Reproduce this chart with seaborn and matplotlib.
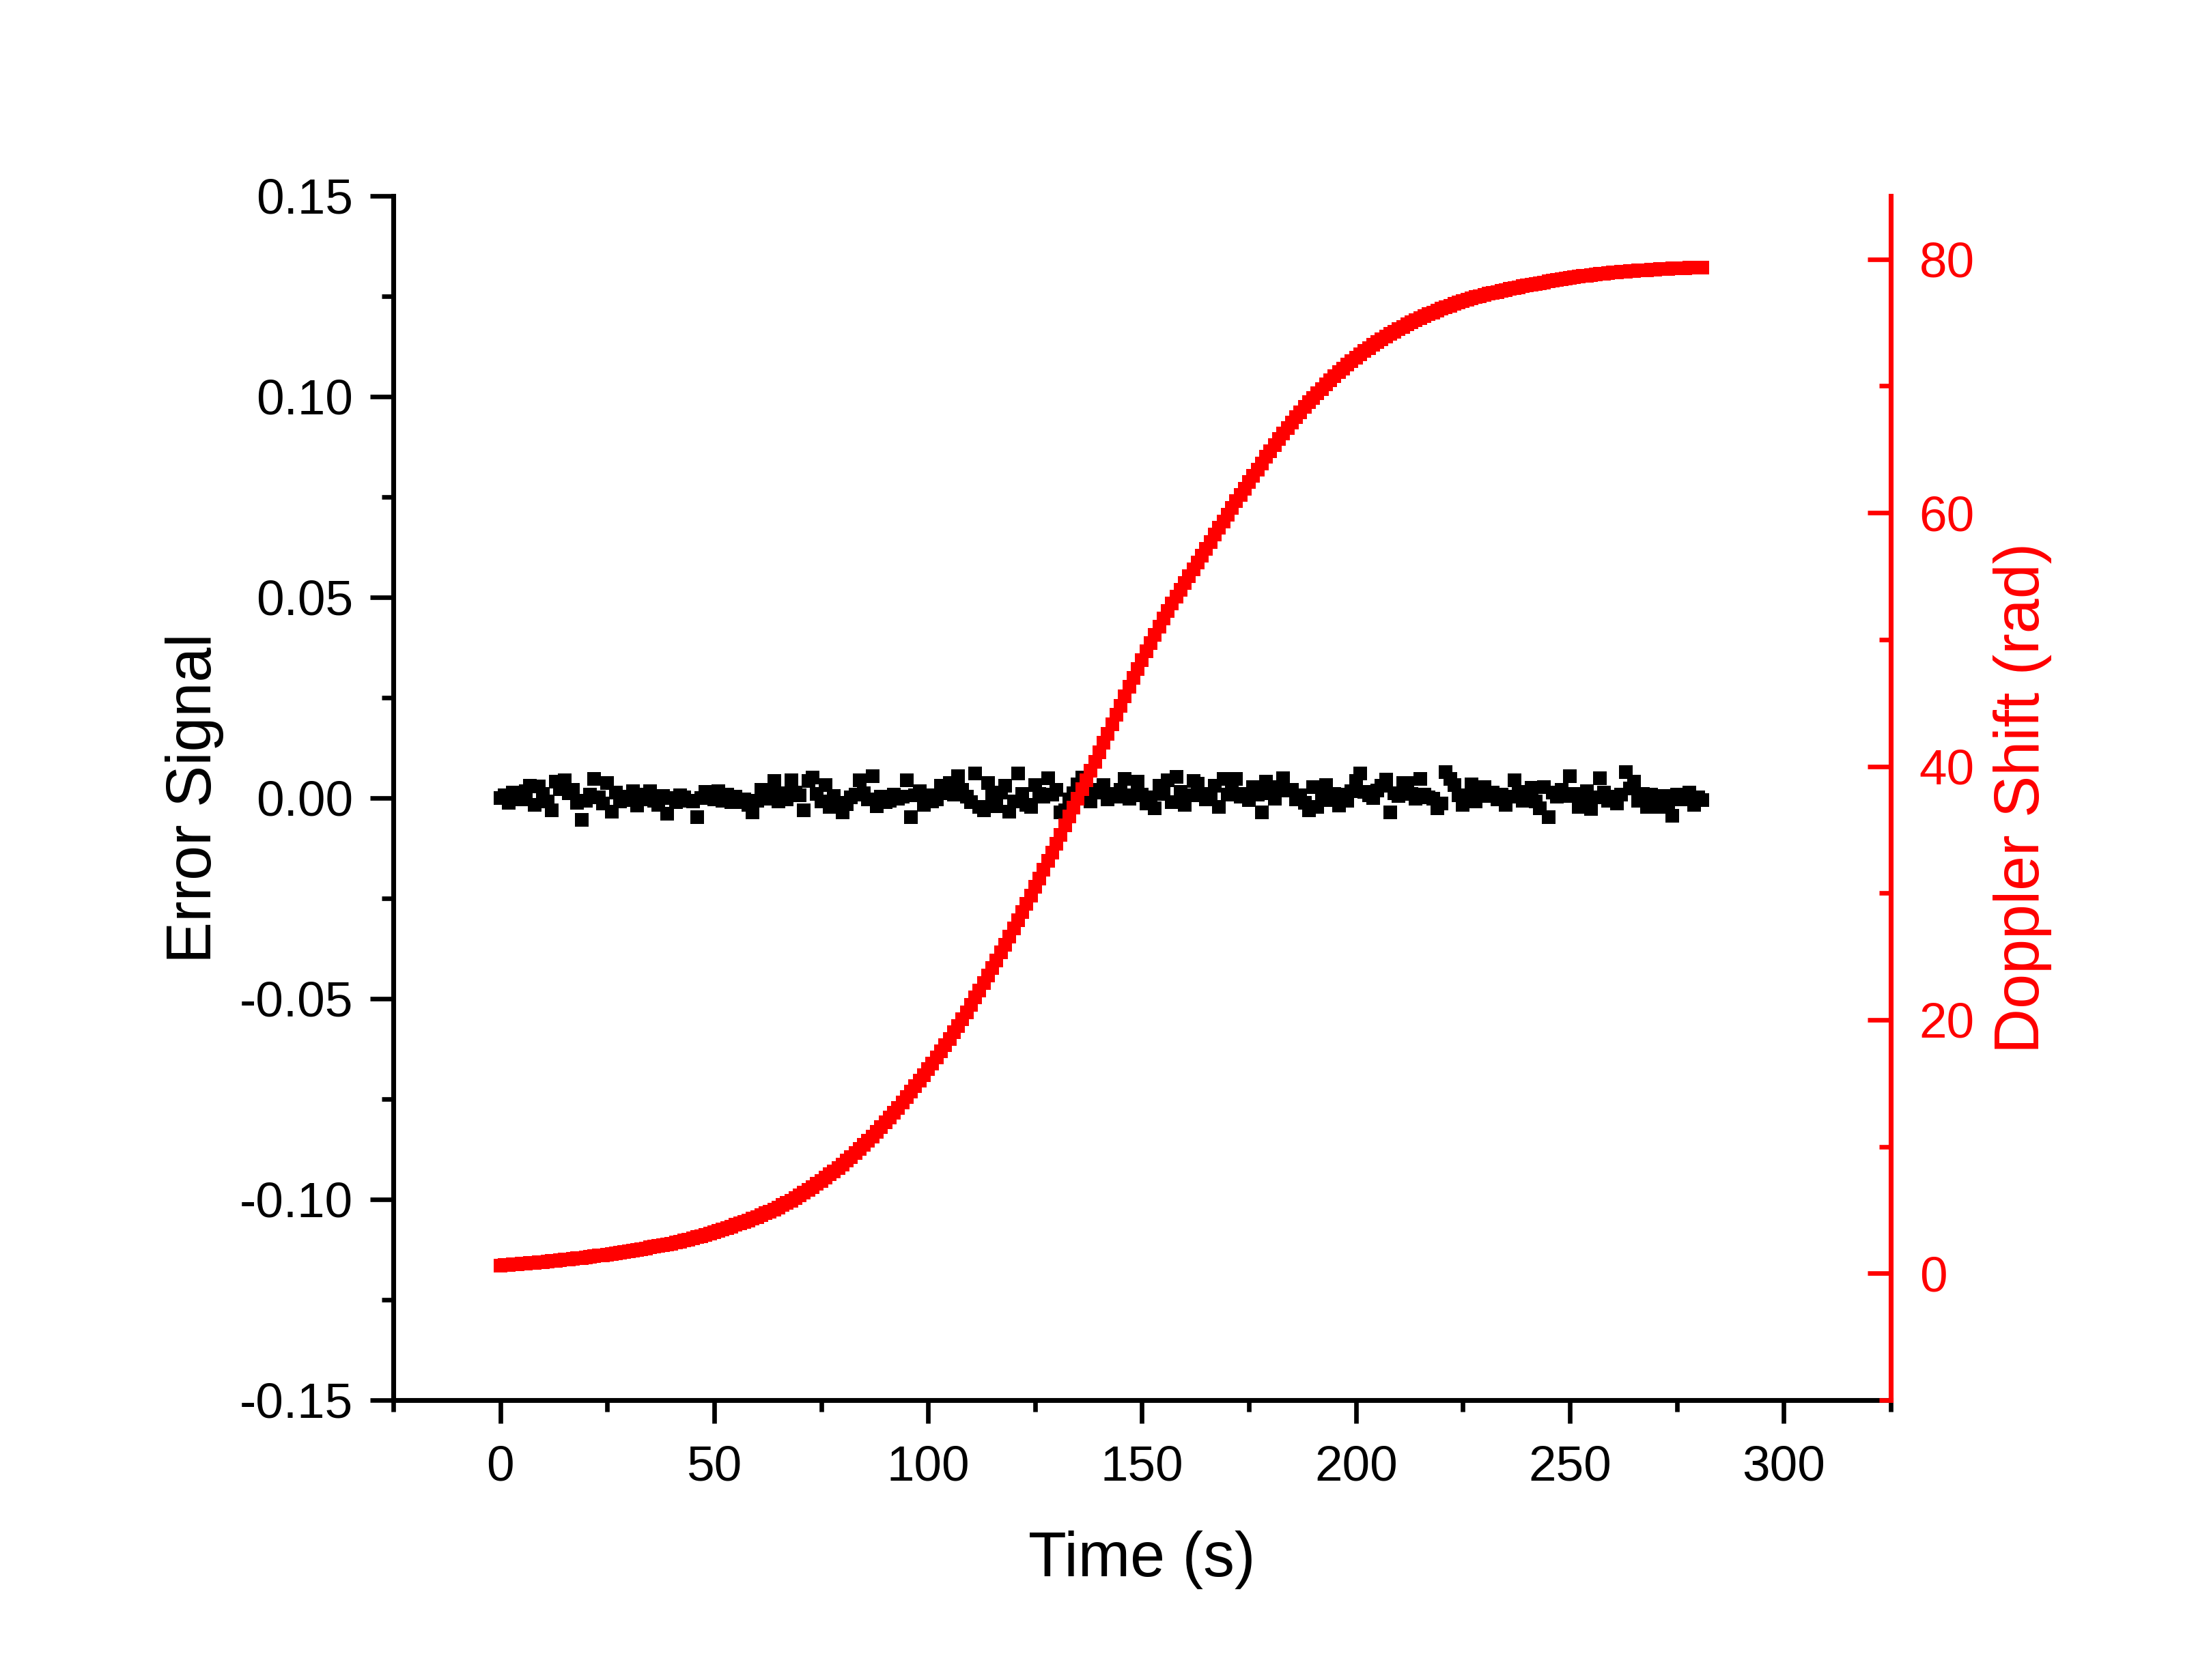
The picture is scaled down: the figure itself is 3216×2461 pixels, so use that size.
import numpy as np
import pandas as pd
import seaborn as sns
import matplotlib
matplotlib.use('Agg')
import matplotlib.pyplot as plt
from matplotlib.ticker import MultipleLocator, AutoMinorLocator, FormatStrFormatter

# time axis: one sample per second, 0 .. 281 s
time_s = np.arange(282)

# error signal (left axis)
error_signal = [
    0.0000, 0.0006, -0.0012, 0.0013, 0.0008, -0.0004, 0.0017, 0.0030, -0.0017, 0.0029,
    0.0010, -0.0008, -0.0030, 0.0041, 0.0022, 0.0044, 0.0012, 0.0020, -0.0012, -0.0054,
    -0.0006, 0.0009, 0.0047, 0.0002, -0.0013, 0.0038, -0.0034, 0.0014, -0.0009, 0.0004,
    -0.0005, 0.0017, -0.0019, 0.0008, -0.0004, 0.0017, -0.0007, -0.0017, 0.0005, -0.0039,
    0.0000, -0.0010, 0.0006, 0.0002, -0.0006, -0.0008, -0.0047, 0.0000, 0.0016, 0.0004,
    -0.0003, 0.0017, -0.0006, 0.0009, -0.0011, 0.0003, -0.0011, -0.0004, -0.0017, -0.0035,
    -0.0007, 0.0021, -0.0002, 0.0009, 0.0042, -0.0008, 0.0012, -0.0003, 0.0044, 0.0014,
    0.0006, -0.0030, 0.0043, 0.0051, 0.0011, -0.0009, 0.0033, -0.0023, 0.0005, -0.0012,
    -0.0035, -0.0016, 0.0002, 0.0008, 0.0044, 0.0012, -0.0004, 0.0054, -0.0021, 0.0004,
    -0.0010, -0.0006, 0.0009, -0.0001, 0.0003, 0.0044, -0.0048, 0.0006, 0.0017, -0.0017,
    0.0007, -0.0009, -0.0003, 0.0030, 0.0012, 0.0038, 0.0009, 0.0055, 0.0020, 0.0004,
    -0.0011, 0.0061, -0.0022, -0.0031, 0.0038, 0.0003, -0.0020, 0.0014, 0.0030, -0.0034,
    -0.0008, 0.0061, 0.0010, -0.0017, -0.0022, 0.0032, 0.0011, 0.0003, 0.0050, 0.0008,
    0.0020, -0.0036, -0.0031, -0.0003, 0.0012, 0.0034, 0.0051, 0.0006, -0.0008, 0.0014,
    0.0020, 0.0033, -0.0003, 0.0010, 0.0004, 0.0021, 0.0047, -0.0002, 0.0006, 0.0040,
    0.0009, -0.0013, 0.0002, -0.0025, 0.0031, 0.0010, 0.0044, -0.0011, 0.0052, 0.0015,
    -0.0017, 0.0007, 0.0043, 0.0035, 0.0006, -0.0003, 0.0011, 0.0030, -0.0022, 0.0048,
    0.0008, 0.0019, 0.0048, 0.0004, 0.0011, -0.0005, 0.0028, 0.0009, -0.0035, 0.0040,
    0.0012, -0.0002, 0.0028, 0.0050, 0.0018, 0.0020, -0.0003, 0.0006, -0.0012, -0.0030,
    0.0027, -0.0022, 0.0004, 0.0032, -0.0005, 0.0010, -0.0019, 0.0008, -0.0006, 0.0017,
    0.0042, 0.0061, 0.0015, 0.0006, 0.0000, 0.0019, 0.0030, 0.0046, -0.0035, 0.0012,
    0.0005, 0.0038, 0.0037, 0.0010, -0.0002, 0.0048, 0.0009, 0.0002, -0.0002, -0.0025,
    -0.0013, 0.0065, 0.0048, 0.0032, 0.0006, -0.0017, 0.0003, 0.0034, -0.0008, 0.0011,
    0.0027, 0.0005, 0.0014, -0.0004, 0.0008, -0.0017, 0.0003, 0.0044, 0.0016, -0.0006,
    0.0010, 0.0025, -0.0009, -0.0025, 0.0028, -0.0048, 0.0014, 0.0004, 0.0021, 0.0005,
    0.0054, 0.0011, -0.0022, 0.0006, 0.0017, -0.0027, 0.0002, 0.0050, 0.0013, -0.0007,
    0.0003, -0.0014, 0.0008, 0.0065, 0.0024, 0.0040, -0.0006, 0.0011, -0.0023, 0.0008,
    -0.0004, -0.0022, 0.0005, -0.0012, -0.0045, 0.0008, -0.0003, 0.0006, 0.0014, -0.0017,
    0.0002, -0.0005,
]

# doppler shift in rad (right axis)
doppler_shift = [
    0.63, 0.65, 0.68, 0.71, 0.73, 0.76, 0.79, 0.82, 0.84, 0.87,
    0.90, 0.93, 0.97, 1.00, 1.04, 1.07, 1.11, 1.14, 1.18, 1.21,
    1.25, 1.30, 1.34, 1.39, 1.44, 1.48, 1.53, 1.58, 1.62, 1.67,
    1.72, 1.78, 1.85, 1.91, 1.97, 2.04, 2.10, 2.16, 2.22, 2.29,
    2.35, 2.43, 2.51, 2.59, 2.67, 2.76, 2.85, 2.95, 3.05, 3.15,
    3.25, 3.36, 3.47, 3.58, 3.70, 3.82, 3.94, 4.06, 4.19, 4.32,
    4.45, 4.59, 4.74, 4.89, 5.05, 5.21, 5.38, 5.56, 5.75, 5.95,
    6.15, 6.36, 6.58, 6.81, 7.05, 7.29, 7.54, 7.80, 8.06, 8.33,
    8.60, 8.89, 9.19, 9.50, 9.82, 10.14, 10.47, 10.81, 11.16, 11.52,
    11.90, 12.28, 12.67, 13.07, 13.48, 13.90, 14.33, 14.77, 15.21, 15.65,
    16.10, 16.56, 17.03, 17.51, 18.00, 18.50, 19.01, 19.53, 20.06, 20.60,
    21.20, 21.76, 22.33, 22.91, 23.50, 24.10, 24.70, 25.31, 25.93, 26.56,
    27.20, 27.85, 28.50, 29.16, 29.82, 30.49, 31.16, 31.84, 32.52, 33.21,
    33.90, 34.61, 35.32, 36.03, 36.75, 37.47, 38.19, 38.91, 39.64, 40.37,
    41.10, 41.84, 42.58, 43.32, 44.06, 44.79, 45.52, 46.25, 46.97, 47.69,
    48.40, 49.08, 49.74, 50.39, 51.02, 51.64, 52.24, 52.82, 53.38, 53.92,
    54.45, 55.00, 55.55, 56.10, 56.64, 57.18, 57.72, 58.26, 58.80, 59.33,
    59.86, 60.38, 60.90, 61.41, 61.92, 62.42, 62.92, 63.42, 63.91, 64.40,
    64.88, 65.34, 65.80, 66.25, 66.69, 67.12, 67.54, 67.94, 68.33, 68.71,
    69.07, 69.43, 69.78, 70.12, 70.45, 70.77, 71.08, 71.38, 71.67, 71.95,
    72.22, 72.49, 72.75, 73.00, 73.24, 73.47, 73.69, 73.90, 74.10, 74.30,
    74.49, 74.67, 74.85, 75.02, 75.19, 75.35, 75.51, 75.66, 75.81, 75.95,
    76.09, 76.22, 76.35, 76.47, 76.59, 76.70, 76.81, 76.91, 77.01, 77.10,
    77.19, 77.27, 77.35, 77.43, 77.51, 77.59, 77.66, 77.73, 77.80, 77.87,
    77.94, 78.00, 78.06, 78.12, 78.18, 78.24, 78.30, 78.36, 78.42, 78.48,
    78.54, 78.59, 78.63, 78.68, 78.72, 78.76, 78.80, 78.84, 78.88, 78.92,
    78.95, 78.98, 79.01, 79.04, 79.06, 79.09, 79.11, 79.13, 79.15, 79.17,
    79.19, 79.21, 79.23, 79.25, 79.27, 79.28, 79.30, 79.31, 79.32, 79.33,
    79.34, 79.35,
]

df = pd.DataFrame({'time': time_s, 'error': error_signal, 'doppler': doppler_shift})

sns.set_style('ticks')
plt.rcParams['font.family'] = ['Liberation Sans', 'DejaVu Sans']
plt.rcParams['axes.unicode_minus'] = False
plt.rcParams['text.color'] = 'black'
plt.rcParams['axes.labelcolor'] = 'black'
plt.rcParams['xtick.color'] = 'black'
plt.rcParams['ytick.color'] = 'black'

fig = plt.figure(figsize=(3216 / 300, 2461 / 300), dpi=300)
ax1 = fig.add_axes([0.1791, 0.1666, 0.6819, 0.7168])

sns.scatterplot(data=df, x='time', y='error', marker='s', color='black',
                s=25, linewidth=0, ax=ax1, zorder=2)

ax2 = ax1.twinx()
sns.scatterplot(data=df, x='time', y='doppler', marker='s', color='red',
                s=25, linewidth=0, ax=ax2, zorder=3)

# left / bottom axes
ax1.set_xlim(-25, 325)
ax1.set_ylim(-0.15, 0.15)
ax1.xaxis.set_major_locator(MultipleLocator(50))
ax1.xaxis.set_minor_locator(AutoMinorLocator(2))
ax1.yaxis.set_major_locator(MultipleLocator(0.05))
ax1.yaxis.set_minor_locator(AutoMinorLocator(2))
ax1.yaxis.set_major_formatter(FormatStrFormatter('%.2f'))

ax1.spines['top'].set_visible(False)
ax1.spines['right'].set_visible(False)
for side in ['left', 'bottom']:
    ax1.spines[side].set_linewidth(1.7)
    ax1.spines[side].set_color('black')

ax1.tick_params(axis='both', which='major', direction='out', length=8.2, width=1.6,
                labelsize=17.5, colors='black')
ax1.tick_params(axis='both', which='minor', direction='out', length=4.1, width=1.6, colors='black')
ax1.tick_params(axis='y', which='major', pad=6)
ax1.tick_params(axis='x', which='major', pad=7.5)
ax1.set_xlabel('Time (s)', fontsize=22, labelpad=14, color='black')
ax1.set_ylabel('Error Signal', fontsize=22, labelpad=5.5, color='black')

# right axis in red
ax2.set_ylim(-10, 85)
ax2.yaxis.set_major_locator(MultipleLocator(20))
ax2.yaxis.set_minor_locator(AutoMinorLocator(2))
for side in ['left', 'top', 'bottom']:
    ax2.spines[side].set_visible(False)
ax2.spines['right'].set_color('red')
ax2.spines['right'].set_linewidth(1.7)
ax2.tick_params(axis='y', which='major', direction='in', length=8.2, width=1.6,
                colors='red', labelsize=17.5, pad=10)
ax2.tick_params(axis='y', which='minor', direction='in', length=4.1, width=1.6, colors='red')
ax2.set_ylabel('Doppler Shift (rad)', fontsize=22, color='red', labelpad=6.5)

fig.savefig('out.png', dpi=300, facecolor='white')
